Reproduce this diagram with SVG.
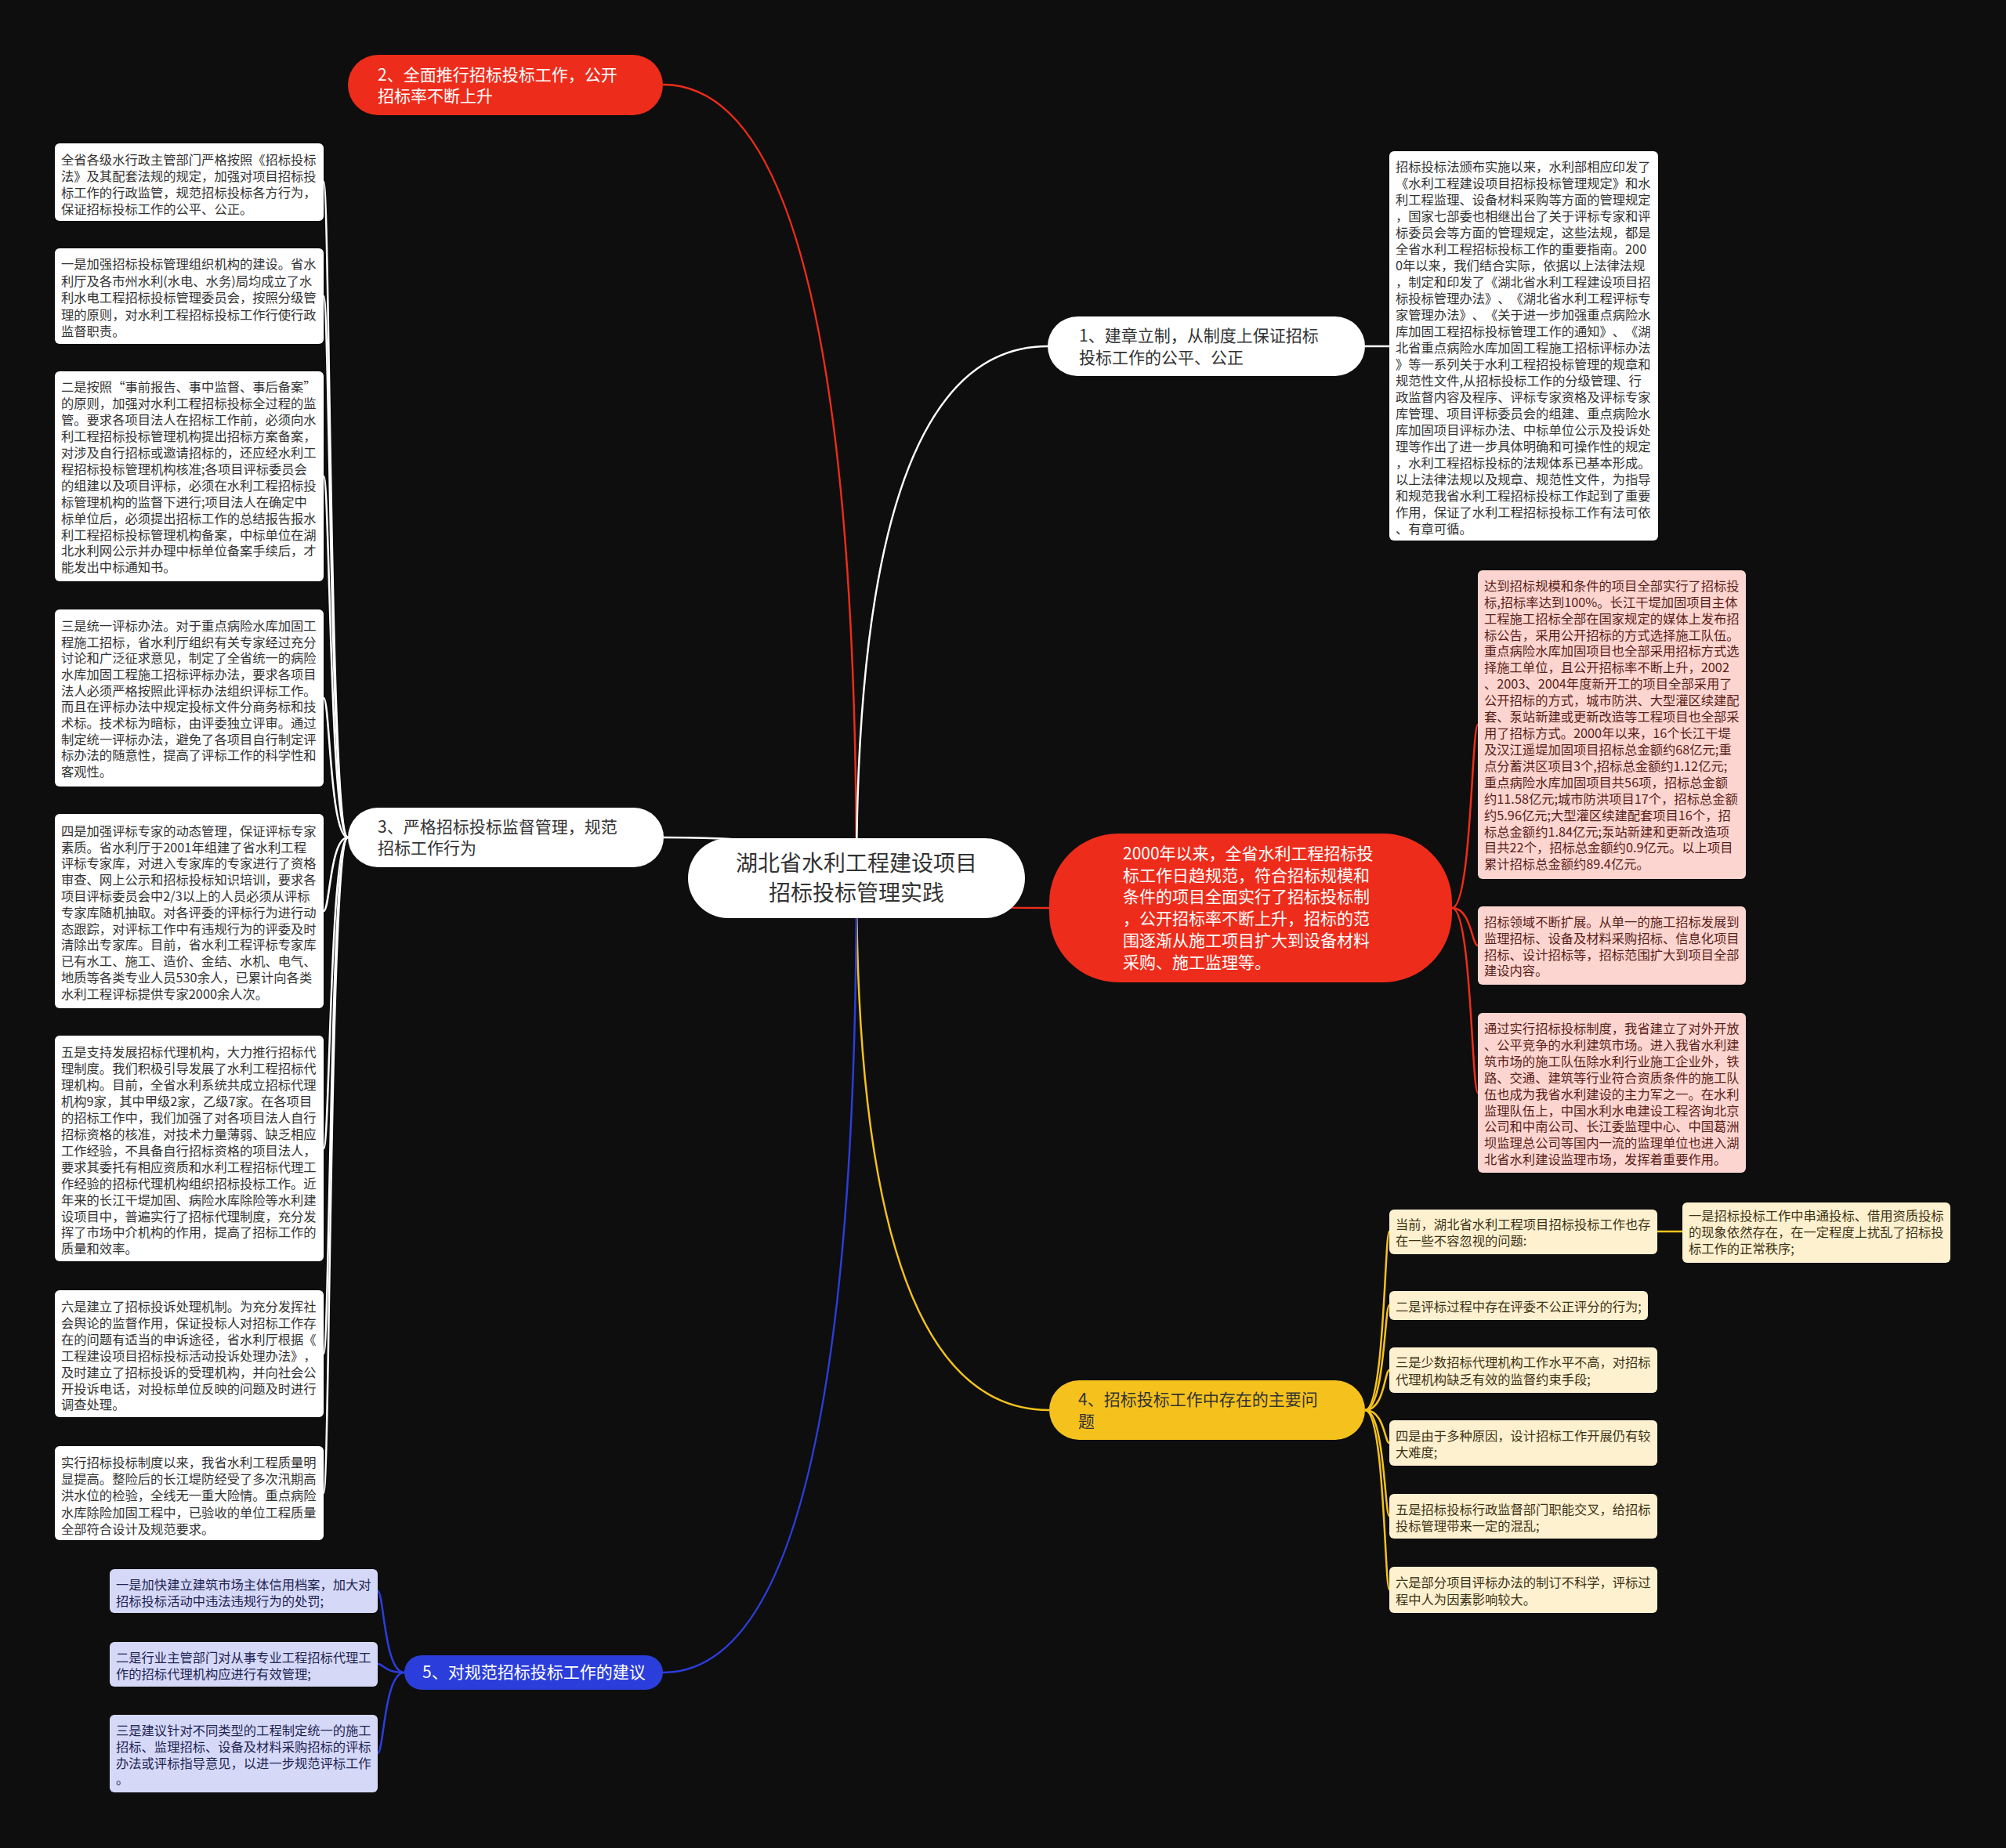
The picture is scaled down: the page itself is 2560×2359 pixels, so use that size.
<svg xmlns="http://www.w3.org/2000/svg" width="2560" height="2359" viewBox="0 0 2560 2359">
<style>
text{font-family:"Noto Sans CJK SC","Noto Sans",sans-serif;text-spacing-trim:space-all;}
.lf{font-size:16.3px;}
.nd{font-size:21px;}
.wbox{fill:#ffffff;}
.wt{fill:#333333;}
.pbox{fill:#fcd5d0;}
.pt{fill:#5a1e18;}
.ybox{fill:#fdf1d0;}
.yt{fill:#3d3214;}
.bbox{fill:#d5d9f7;}
.bt{fill:#1f2352;}
.c{fill:none;stroke-width:2.5;}
.cw{stroke:#ffffff;}
.cr{stroke:#ee2c1b;}
.cy{stroke:#f5c21d;}
.cb{stroke:#2b3edb;}
</style>
<rect x="0" y="0" width="2560" height="2359" fill="#0e0e0e"/>

<g id="connectors">
  <path class="c cr" d="M1093,1121 Q1093,108 846,108"/>
  <path class="c cw" d="M1093,1121 Q1093,442 1337,442"/>
  <path class="c cw" d="M1093,1121 Q1093,1069 847,1069"/>
  <path class="c cr" d="M1093,1121 Q1093,1159 1339,1159"/>
  <path class="c cy" d="M1093,1121 Q1093,1800 1339,1800"/>
  <path class="c cb" d="M1093,1121 Q1093,2135 846,2135"/>
  <path class="c cw" stroke-width="2" d="M444,1069 C421,1069 421,232 413,232"/>
  <path class="c cw" stroke-width="2" d="M444,1069 C421,1069 421,378 413,378"/>
  <path class="c cw" stroke-width="2" d="M444,1069 C421,1069 421,608 413,608"/>
  <path class="c cw" stroke-width="2" d="M444,1069 C421,1069 421,891 413,891"/>
  <path class="c cw" stroke-width="2" d="M444,1069 C421,1069 421,1163 413,1163"/>
  <path class="c cw" stroke-width="2" d="M444,1069 C421,1069 421,1466 413,1466"/>
  <path class="c cw" stroke-width="2" d="M444,1069 C421,1069 421,1728 413,1728"/>
  <path class="c cw" stroke-width="2" d="M444,1069 C421,1069 421,1906 413,1906"/>
  <path class="c cw" stroke-width="2" d="M1742,442 L1773,442"/>
  <path class="c cr" stroke-width="2" d="M1853,1159 C1878,1159 1878,925 1886,925"/>
  <path class="c cr" stroke-width="2" d="M1853,1159 C1878,1159 1878,1207 1886,1207"/>
  <path class="c cr" stroke-width="2" d="M1853,1159 C1878,1159 1878,1395 1886,1395"/>
  <path class="c cy" stroke-width="2" d="M1742,1800 C1767,1800 1767,1572 1773,1572"/>
  <path class="c cy" stroke-width="2" d="M1742,1800 C1767,1800 1767,1666 1773,1666"/>
  <path class="c cy" stroke-width="2" d="M1742,1800 C1767,1800 1767,1749 1773,1749"/>
  <path class="c cy" stroke-width="2" d="M1742,1800 C1767,1800 1767,1842 1773,1842"/>
  <path class="c cy" stroke-width="2" d="M1742,1800 C1767,1800 1767,1935 1773,1935"/>
  <path class="c cy" stroke-width="2" d="M1742,1800 C1767,1800 1767,2029 1773,2029"/>
  <path class="c cy" stroke-width="2" d="M2115,1572 L2147,1572"/>
  <path class="c cb" stroke-width="2" d="M516,2135 C490,2135 490,2031 482,2031"/>
  <path class="c cb" stroke-width="2" d="M516,2135 C490,2135 490,2124 482,2124"/>
  <path class="c cb" stroke-width="2" d="M516,2135 C490,2135 490,2238 482,2238"/>
</g>

<g id="root">
  <rect x="878" y="1070" width="430" height="102" rx="51" fill="#ffffff"/>
  <text x="1093" y="1112" font-size="28" fill="#333333" text-anchor="middle">湖北省水利工程建设项目</text>
  <text x="1093" y="1150" font-size="28" fill="#333333" text-anchor="middle">招标投标管理实践</text>
</g>

<g id="n2">
  <rect x="444" y="70" width="402" height="77" rx="38.5" fill="#ee2c1b"/>
  <text class="nd" fill="#ffffff"><tspan x="482" y="102.6">2、全面推行招标投标工作，公开</tspan><tspan x="482" y="130.1">招标率不断上升</tspan></text>
</g>

<g id="n1">
  <rect x="1337" y="404" width="405" height="76" rx="38" fill="#ffffff"/>
  <text class="nd" fill="#333333"><tspan x="1377" y="435.6">1、建章立制，从制度上保证招标</tspan><tspan x="1377" y="463.6">投标工作的公平、公正</tspan></text>
</g>

<g id="n3">
  <rect x="444" y="1031" width="403" height="76" rx="38" fill="#ffffff"/>
  <text class="nd" fill="#333333"><tspan x="482" y="1062.6">3、严格招标投标监督管理，规范</tspan><tspan x="482" y="1089.6">招标工作行为</tspan></text>
</g>

<g id="n2000">
  <rect x="1339" y="1064" width="514" height="190" rx="88" fill="#ee2c1b"/>
  <text class="nd" fill="#ffffff">
    <tspan x="1433" y="1096.6">2000年以来，全省水利工程招标投</tspan>
    <tspan x="1433" y="1124.5">标工作日趋规范，符合招标规模和</tspan>
    <tspan x="1433" y="1152.4">条件的项目全面实行了招标投标制</tspan>
    <tspan x="1433" y="1180.3">，公开招标率不断上升，招标的范</tspan>
    <tspan x="1433" y="1208.2">围逐渐从施工项目扩大到设备材料</tspan>
    <tspan x="1433" y="1236.1">采购、施工监理等。</tspan>
  </text>
</g>

<g id="n4">
  <rect x="1339" y="1762" width="403" height="76" rx="38" fill="#f5c21d"/>
  <text class="nd" fill="#333333"><tspan x="1376" y="1793.6">4、招标投标工作中存在的主要问</tspan><tspan x="1376" y="1821.6">题</tspan></text>
</g>

<g id="n5">
  <rect x="516" y="2113" width="330" height="44" rx="22" fill="#2b3edb"/>
  <text class="nd" fill="#ffffff" x="539" y="2141.6">5、对规范招标投标工作的建议</text>
</g>

<g id="l1">
  <rect class="wbox" x="70" y="183" width="343" height="99" rx="6"/>
  <text class="lf wt">
    <tspan x="78" y="210">全省各级水行政主管部门严格按照《招标投标</tspan>
    <tspan x="78" y="231">法》及其配套法规的规定，加强对项目招标投</tspan>
    <tspan x="78" y="252">标工作的行政监管，规范招标投标各方行为，</tspan>
    <tspan x="78" y="273">保证招标投标工作的公平、公正。</tspan>
  </text>
</g>
<g id="l2">
  <rect class="wbox" x="70" y="317" width="343" height="122" rx="6"/>
  <text class="lf wt">
    <tspan x="78" y="343.3">一是加强招标投标管理组织机构的建设。省水</tspan>
    <tspan x="78" y="364.8">利厅及各市州水利(水电、水务)局均成立了水</tspan>
    <tspan x="78" y="386.3">利水电工程招标投标管理委员会，按照分级管</tspan>
    <tspan x="78" y="407.8">理的原则，对水利工程招标投标工作行使行政</tspan>
    <tspan x="78" y="429.3">监督职责。</tspan>
  </text>
</g>
<g id="l3">
  <rect class="wbox" x="70" y="474" width="343" height="268" rx="6"/>
  <text class="lf wt">
    <tspan x="78" y="500">二是按照“事前报告、事中监督、事后备案”</tspan>
    <tspan x="78" y="520.9">的原则，加强对水利工程招标投标全过程的监</tspan>
    <tspan x="78" y="541.9">管。要求各项目法人在招标工作前，必须向水</tspan>
    <tspan x="78" y="562.8">利工程招标投标管理机构提出招标方案备案，</tspan>
    <tspan x="78" y="583.8">对涉及自行招标或邀请招标的，还应经水利工</tspan>
    <tspan x="78" y="604.7">程招标投标管理机构核准;各项目评标委员会</tspan>
    <tspan x="78" y="625.6">的组建以及项目评标，必须在水利工程招标投</tspan>
    <tspan x="78" y="646.6">标管理机构的监督下进行;项目法人在确定中</tspan>
    <tspan x="78" y="667.5">标单位后，必须提出招标工作的总结报告报水</tspan>
    <tspan x="78" y="688.5">利工程招标投标管理机构备案，中标单位在湖</tspan>
    <tspan x="78" y="709.4">北水利网公示并办理中标单位备案手续后，才</tspan>
    <tspan x="78" y="730.3">能发出中标通知书。</tspan>
  </text>
</g>
<g id="l4">
  <rect class="wbox" x="70" y="778" width="343" height="226" rx="6"/>
  <text class="lf wt">
    <tspan x="78" y="805">三是统一评标办法。对于重点病险水库加固工</tspan>
    <tspan x="78" y="825.7">程施工招标，省水利厅组织有关专家经过充分</tspan>
    <tspan x="78" y="846.3">讨论和广泛征求意见，制定了全省统一的病险</tspan>
    <tspan x="78" y="867">水库加固工程施工招标评标办法，要求各项目</tspan>
    <tspan x="78" y="887.7">法人必须严格按照此评标办法组织评标工作。</tspan>
    <tspan x="78" y="908.3">而且在评标办法中规定投标文件分商务标和技</tspan>
    <tspan x="78" y="929">术标。技术标为暗标，由评委独立评审。通过</tspan>
    <tspan x="78" y="949.7">制定统一评标办法，避免了各项目自行制定评</tspan>
    <tspan x="78" y="970.3">标办法的随意性，提高了评标工作的科学性和</tspan>
    <tspan x="78" y="991">客观性。</tspan>
  </text>
</g>
<g id="l5">
  <rect class="wbox" x="70" y="1039" width="343" height="248" rx="6"/>
  <text class="lf wt">
    <tspan x="78" y="1066.7">四是加强评标专家的动态管理，保证评标专家</tspan>
    <tspan x="78" y="1087.5">素质。省水利厅于2001年组建了省水利工程</tspan>
    <tspan x="78" y="1108.3">评标专家库，对进入专家库的专家进行了资格</tspan>
    <tspan x="78" y="1129.1">审查、网上公示和招标投标知识培训，要求各</tspan>
    <tspan x="78" y="1149.9">项目评标委员会中2/3以上的人员必须从评标</tspan>
    <tspan x="78" y="1170.7">专家库随机抽取。对各评委的评标行为进行动</tspan>
    <tspan x="78" y="1191.5">态跟踪，对评标工作中有违规行为的评委及时</tspan>
    <tspan x="78" y="1212.3">清除出专家库。目前，省水利工程评标专家库</tspan>
    <tspan x="78" y="1233.1">已有水工、施工、造价、金结、水机、电气、</tspan>
    <tspan x="78" y="1253.9">地质等各类专业人员530余人，已累计向各类</tspan>
    <tspan x="78" y="1274.7">水利工程评标提供专家2000余人次。</tspan>
  </text>
</g>
<g id="l6">
  <rect class="wbox" x="70" y="1322" width="343" height="288" rx="6"/>
  <text class="lf wt">
    <tspan x="78" y="1349.3">五是支持发展招标代理机构，大力推行招标代</tspan>
    <tspan x="78" y="1370.2">理制度。我们积极引导发展了水利工程招标代</tspan>
    <tspan x="78" y="1391.1">理机构。目前，全省水利系统共成立招标代理</tspan>
    <tspan x="78" y="1412.1">机构9家，其中甲级2家，乙级7家。在各项目</tspan>
    <tspan x="78" y="1433">的招标工作中，我们加强了对各项目法人自行</tspan>
    <tspan x="78" y="1453.9">招标资格的核准，对技术力量薄弱、缺乏相应</tspan>
    <tspan x="78" y="1474.8">工作经验，不具备自行招标资格的项目法人，</tspan>
    <tspan x="78" y="1495.7">要求其委托有相应资质和水利工程招标代理工</tspan>
    <tspan x="78" y="1516.7">作经验的招标代理机构组织招标投标工作。近</tspan>
    <tspan x="78" y="1537.6">年来的长江干堤加固、病险水库除险等水利建</tspan>
    <tspan x="78" y="1558.5">设项目中，普遍实行了招标代理制度，充分发</tspan>
    <tspan x="78" y="1579.4">挥了市场中介机构的作用，提高了招标工作的</tspan>
    <tspan x="78" y="1600.3">质量和效率。</tspan>
  </text>
</g>
<g id="l7">
  <rect class="wbox" x="70" y="1647" width="343" height="162" rx="6"/>
  <text class="lf wt">
    <tspan x="78" y="1674.3">六是建立了招标投诉处理机制。为充分发挥社</tspan>
    <tspan x="78" y="1695.1">会舆论的监督作用，保证投标人对招标工作存</tspan>
    <tspan x="78" y="1716">在的问题有适当的申诉途径，省水利厅根据《</tspan>
    <tspan x="78" y="1736.8">工程建设项目招标投标活动投诉处理办法》，</tspan>
    <tspan x="78" y="1757.6">及时建立了招标投诉的受理机构，并向社会公</tspan>
    <tspan x="78" y="1778.5">开投诉电话，对投标单位反映的问题及时进行</tspan>
    <tspan x="78" y="1799.3">调查处理。</tspan>
  </text>
</g>
<g id="l8">
  <rect class="wbox" x="70" y="1846" width="343" height="120" rx="6"/>
  <text class="lf wt">
    <tspan x="78" y="1872.7">实行招标投标制度以来，我省水利工程质量明</tspan>
    <tspan x="78" y="1894">显提高。整险后的长江堤防经受了多次汛期高</tspan>
    <tspan x="78" y="1915.2">洪水位的检验，全线无一重大险情。重点病险</tspan>
    <tspan x="78" y="1936.5">水库除险加固工程中，已验收的单位工程质量</tspan>
    <tspan x="78" y="1957.7">全部符合设计及规范要求。</tspan>
  </text>
</g>

<g id="r1">
  <rect class="wbox" x="1773" y="193" width="343" height="497" rx="6"/>
  <text class="lf wt">
    <tspan x="1781" y="218.7">招标投标法颁布实施以来，水利部相应印发了</tspan>
    <tspan x="1781" y="239.7">《水利工程建设项目招标投标管理规定》和水</tspan>
    <tspan x="1781" y="260.7">利工程监理、设备材料采购等方面的管理规定</tspan>
    <tspan x="1781" y="281.7">，国家七部委也相继出台了关于评标专家和评</tspan>
    <tspan x="1781" y="302.7">标委员会等方面的管理规定，这些法规，都是</tspan>
    <tspan x="1781" y="323.7">全省水利工程招标投标工作的重要指南。200</tspan>
    <tspan x="1781" y="344.7">0年以来，我们结合实际，依据以上法律法规</tspan>
    <tspan x="1781" y="365.7">，制定和印发了《湖北省水利工程建设项目招</tspan>
    <tspan x="1781" y="386.7">标投标管理办法》、《湖北省水利工程评标专</tspan>
    <tspan x="1781" y="407.7">家管理办法》、《关于进一步加强重点病险水</tspan>
    <tspan x="1781" y="428.7">库加固工程招标投标管理工作的通知》、《湖</tspan>
    <tspan x="1781" y="449.7">北省重点病险水库加固工程施工招标评标办法</tspan>
    <tspan x="1781" y="470.7">》等一系列关于水利工程招投标管理的规章和</tspan>
    <tspan x="1781" y="491.7">规范性文件,从招标投标工作的分级管理、行</tspan>
    <tspan x="1781" y="512.7">政监督内容及程序、评标专家资格及评标专家</tspan>
    <tspan x="1781" y="533.7">库管理、项目评标委员会的组建、重点病险水</tspan>
    <tspan x="1781" y="554.7">库加固项目评标办法、中标单位公示及投诉处</tspan>
    <tspan x="1781" y="575.7">理等作出了进一步具体明确和可操作性的规定</tspan>
    <tspan x="1781" y="596.7">，水利工程招标投标的法规体系已基本形成。</tspan>
    <tspan x="1781" y="617.7">以上法律法规以及规章、规范性文件，为指导</tspan>
    <tspan x="1781" y="638.7">和规范我省水利工程招标投标工作起到了重要</tspan>
    <tspan x="1781" y="659.7">作用，保证了水利工程招标投标工作有法可依</tspan>
    <tspan x="1781" y="680.7">、有章可循。</tspan>
  </text>
</g>

<g id="p1">
  <rect class="pbox" x="1886" y="728" width="342" height="394" rx="6"/>
  <text class="lf pt">
    <tspan x="1894" y="753.7">达到招标规模和条件的项目全部实行了招标投</tspan>
    <tspan x="1894" y="774.6">标,招标率达到100%。长江干堤加固项目主体</tspan>
    <tspan x="1894" y="795.5">工程施工招标全部在国家规定的媒体上发布招</tspan>
    <tspan x="1894" y="816.5">标公告，采用公开招标的方式选择施工队伍。</tspan>
    <tspan x="1894" y="837.4">重点病险水库加固项目也全部采用招标方式选</tspan>
    <tspan x="1894" y="858.3">择施工单位，且公开招标率不断上升，2002</tspan>
    <tspan x="1894" y="879.2">、2003、2004年度新开工的项目全部采用了</tspan>
    <tspan x="1894" y="900.1">公开招标的方式，城市防洪、大型灌区续建配</tspan>
    <tspan x="1894" y="921.1">套、泵站新建或更新改造等工程项目也全部采</tspan>
    <tspan x="1894" y="942">用了招标方式。2000年以来，16个长江干堤</tspan>
    <tspan x="1894" y="962.9">及汉江遥堤加固项目招标总金额约68亿元;重</tspan>
    <tspan x="1894" y="983.8">点分蓄洪区项目3个,招标总金额约1.12亿元;</tspan>
    <tspan x="1894" y="1004.7">重点病险水库加固项目共56项，招标总金额</tspan>
    <tspan x="1894" y="1025.7">约11.58亿元;城市防洪项目17个，招标总金额</tspan>
    <tspan x="1894" y="1046.6">约5.96亿元;大型灌区续建配套项目16个，招</tspan>
    <tspan x="1894" y="1067.5">标总金额约1.84亿元;泵站新建和更新改造项</tspan>
    <tspan x="1894" y="1088.4">目共22个，招标总金额约0.9亿元。以上项目</tspan>
    <tspan x="1894" y="1109.3">累计招标总金额约89.4亿元。</tspan>
  </text>
</g>
<g id="p2">
  <rect class="pbox" x="1886" y="1157" width="342" height="100" rx="6"/>
  <text class="lf pt">
    <tspan x="1894" y="1182.7">招标领域不断扩展。从单一的施工招标发展到</tspan>
    <tspan x="1894" y="1203.6">监理招标、设备及材料采购招标、信息化项目</tspan>
    <tspan x="1894" y="1224.5">招标、设计招标等，招标范围扩大到项目全部</tspan>
    <tspan x="1894" y="1245.4">建设内容。</tspan>
  </text>
</g>
<g id="p3">
  <rect class="pbox" x="1886" y="1293" width="342" height="204" rx="6"/>
  <text class="lf pt">
    <tspan x="1894" y="1319.3">通过实行招标投标制度，我省建立了对外开放</tspan>
    <tspan x="1894" y="1340.1">、公平竞争的水利建筑市场。进入我省水利建</tspan>
    <tspan x="1894" y="1361">筑市场的施工队伍除水利行业施工企业外，铁</tspan>
    <tspan x="1894" y="1381.8">路、交通、建筑等行业符合资质条件的施工队</tspan>
    <tspan x="1894" y="1402.7">伍也成为我省水利建设的主力军之一。在水利</tspan>
    <tspan x="1894" y="1423.5">监理队伍上，中国水利水电建设工程咨询北京</tspan>
    <tspan x="1894" y="1444.3">公司和中南公司、长江委监理中心、中国葛洲</tspan>
    <tspan x="1894" y="1465.2">坝监理总公司等国内一流的监理单位也进入湖</tspan>
    <tspan x="1894" y="1486">北省水利建设监理市场，发挥着重要作用。</tspan>
  </text>
</g>

<g id="y1">
  <rect class="ybox" x="1773" y="1544" width="342" height="57" rx="6"/>
  <text class="lf yt"><tspan x="1781" y="1569.3">当前，湖北省水利工程项目招标投标工作也存</tspan><tspan x="1781" y="1590.3">在一些不容忽视的问题:</tspan></text>
</g>
<g id="y1a">
  <rect class="ybox" x="2147" y="1535" width="342" height="77" rx="6"/>
  <text class="lf yt"><tspan x="2155" y="1558.3">一是招标投标工作中串通投标、借用资质投标</tspan><tspan x="2155" y="1579.3">的现象依然存在，在一定程度上扰乱了招标投</tspan><tspan x="2155" y="1600.3">标工作的正常秩序;</tspan></text>
</g>
<g id="y2">
  <rect class="ybox" x="1773" y="1648" width="330" height="37" rx="6"/>
  <text class="lf yt" x="1781" y="1673.7">二是评标过程中存在评委不公正评分的行为;</text>
</g>
<g id="y3">
  <rect class="ybox" x="1773" y="1720" width="342" height="58" rx="6"/>
  <text class="lf yt"><tspan x="1781" y="1745">三是少数招标代理机构工作水平不高，对招标</tspan><tspan x="1781" y="1766.5">代理机构缺乏有效的监督约束手段;</tspan></text>
</g>
<g id="y4">
  <rect class="ybox" x="1773" y="1813" width="342" height="58" rx="6"/>
  <text class="lf yt"><tspan x="1781" y="1838.7">四是由于多种原因，设计招标工作开展仍有较</tspan><tspan x="1781" y="1860.3">大难度;</tspan></text>
</g>
<g id="y5">
  <rect class="ybox" x="1773" y="1907" width="342" height="57" rx="6"/>
  <text class="lf yt"><tspan x="1781" y="1932.7">五是招标投标行政监督部门职能交叉，给招标</tspan><tspan x="1781" y="1954.3">投标管理带来一定的混乱;</tspan></text>
</g>
<g id="y6">
  <rect class="ybox" x="1773" y="2000" width="342" height="59" rx="6"/>
  <text class="lf yt"><tspan x="1781" y="2026">六是部分项目评标办法的制订不科学，评标过</tspan><tspan x="1781" y="2047.7">程中人为因素影响较大。</tspan></text>
</g>

<g id="b1">
  <rect class="bbox" x="140" y="2003" width="342" height="56" rx="6"/>
  <text class="lf bt"><tspan x="148" y="2029.3">一是加快建立建筑市场主体信用档案，加大对</tspan><tspan x="148" y="2049.8">招标投标活动中违法违规行为的处罚;</tspan></text>
</g>
<g id="b2">
  <rect class="bbox" x="140" y="2096" width="342" height="57" rx="6"/>
  <text class="lf bt"><tspan x="148" y="2122">二是行业主管部门对从事专业工程招标代理工</tspan><tspan x="148" y="2142.7">作的招标代理机构应进行有效管理;</tspan></text>
</g>
<g id="b3">
  <rect class="bbox" x="140" y="2189" width="342" height="99" rx="6"/>
  <text class="lf bt"><tspan x="148" y="2215.3">三是建议针对不同类型的工程制定统一的施工</tspan><tspan x="148" y="2236">招标、监理招标、设备及材料采购招标的评标</tspan><tspan x="148" y="2256.7">办法或评标指导意见，以进一步规范评标工作</tspan><tspan x="148" y="2277.4">。</tspan></text>
</g>
</svg>
